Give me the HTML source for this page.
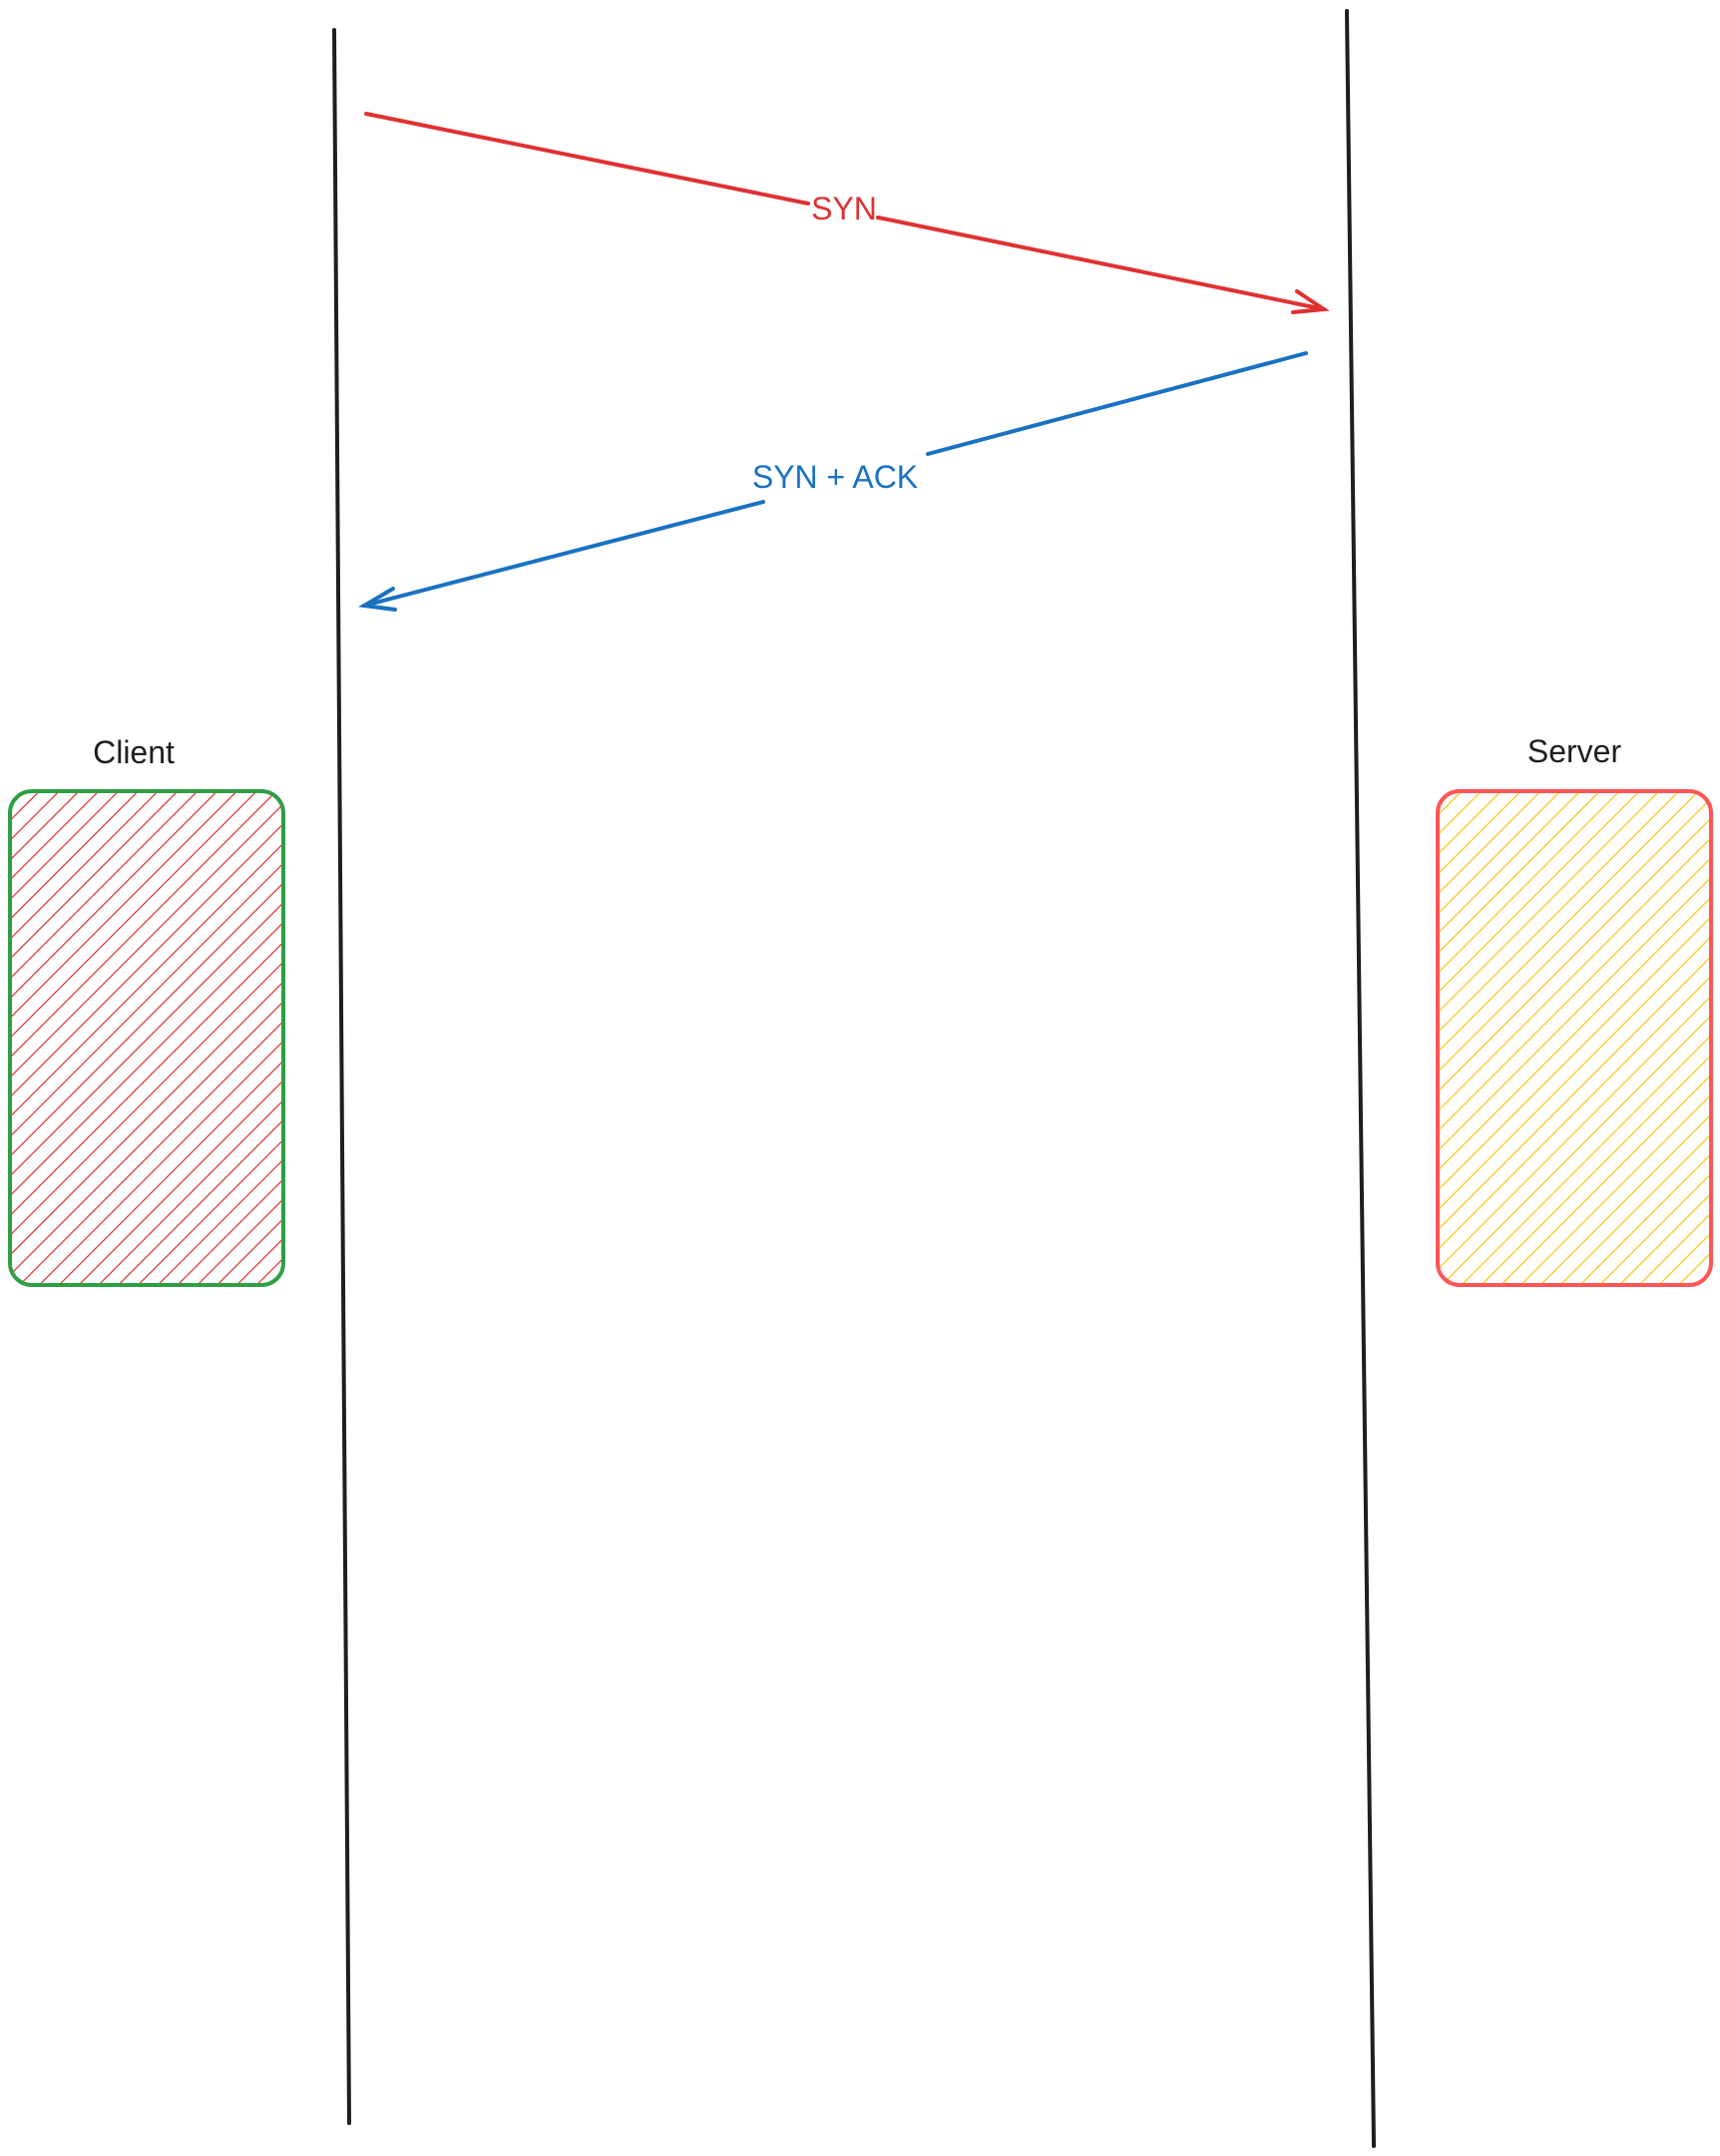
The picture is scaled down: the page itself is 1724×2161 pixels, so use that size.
<!DOCTYPE html>
<html>
<head>
<meta charset="utf-8">
<style>
  html,body{margin:0;padding:0;background:#fff;}
  body{width:1724px;height:2161px;overflow:hidden;}
  svg{display:block;}
  text{font-family:"Liberation Sans",sans-serif;}
</style>
</head>
<body>
<svg width="1724" height="2161" viewBox="0 0 1724 2161">
  <defs>
    <pattern id="hatchRed" patternUnits="userSpaceOnUse" width="14" height="14" patternTransform="rotate(45)">
      <line x1="0" y1="0" x2="0" y2="14" stroke="#e03131" stroke-width="2.5"/>
    </pattern>
    <pattern id="hatchYellow" patternUnits="userSpaceOnUse" width="14" height="14" patternTransform="rotate(45)">
      <line x1="0" y1="0" x2="0" y2="14" stroke="#fcc419" stroke-width="2.5"/>
    </pattern>
  </defs>

  <line x1="335" y1="30" x2="350" y2="2128" stroke="#1e1e1e" stroke-width="4" stroke-linecap="round"/>
  <line x1="1350" y1="11" x2="1377" y2="2151" stroke="#1e1e1e" stroke-width="4" stroke-linecap="round"/>

  <g stroke="#e03131" stroke-width="4" stroke-linecap="round" fill="none">
    <line x1="367" y1="114" x2="810" y2="204"/>
    <line x1="880" y1="218" x2="1327" y2="310"/>
    <polyline points="1300,292 1327,310 1296,313"/>
  </g>
  <text x="846" y="220" text-anchor="middle" font-size="32" fill="#e03131">SYN</text>

  <g stroke="#1971c2" stroke-width="4" stroke-linecap="round" fill="none">
    <line x1="1309" y1="354" x2="930" y2="455"/>
    <line x1="765" y1="503" x2="365" y2="607"/>
    <polyline points="394,590 365,607 396,611"/>
  </g>
  <text x="837" y="489" text-anchor="middle" font-size="32" fill="#1971c2">SYN + ACK</text>

  <text x="134" y="765" text-anchor="middle" font-size="32" fill="#1e1e1e">Client</text>
  <rect x="10" y="793" width="274" height="495" rx="22" fill="url(#hatchRed)" stroke="#2f9e44" stroke-width="4"/>

  <text x="1578" y="764" text-anchor="middle" font-size="32" fill="#1e1e1e">Server</text>
  <rect x="1441" y="793" width="274" height="495" rx="22" fill="url(#hatchYellow)" stroke="#ff5555" stroke-width="4"/>
</svg>
</body>
</html>
